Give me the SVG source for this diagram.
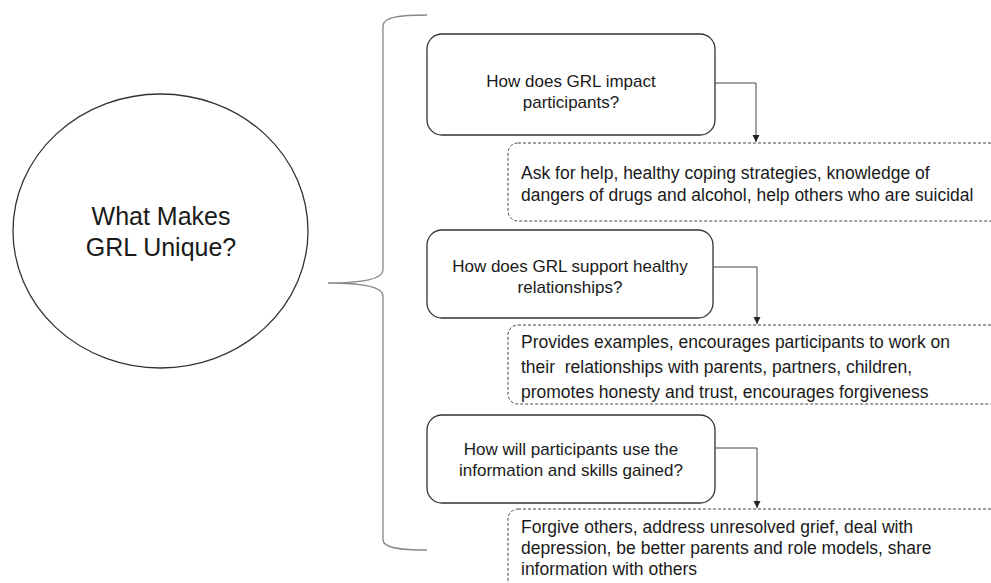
<svg xmlns="http://www.w3.org/2000/svg" width="991" height="583" viewBox="0 0 991 583">
<style>
.t{font-family:"Liberation Sans",Arial,sans-serif;fill:#1a1a1a}
.q{font-size:17px;text-anchor:middle}
.a{font-size:17.5px}
.qb{fill:#fff;stroke:#333;stroke-width:1.3}
.ab{fill:#fff;stroke:#444;stroke-width:1;stroke-dasharray:3,2}
.con{fill:none;stroke:#444;stroke-width:1}
</style>
<defs>
<marker id="arr" markerWidth="8" markerHeight="8" refX="7" refY="4" orient="auto" markerUnits="userSpaceOnUse">
<path d="M0,0.5 L7,4 L0,7.5 z" fill="#222"/>
</marker>
</defs>
<rect width="991" height="583" fill="#fff"/>
<g id="center">
<ellipse cx="160.5" cy="231" rx="147.5" ry="137" fill="#fff" stroke="#333" stroke-width="1.3"/>
<text class="t" font-size="25" text-anchor="middle" x="161" y="225">What Makes</text>
<text class="t" font-size="25" text-anchor="middle" x="161" y="256">GRL Unique?</text>
</g>
<g id="brace">
<path d="M427 15 C400 15 383 17 383 26 L383 270 C383 279 362 283 328 283 C362 283 383 287 383 296 L383 540 C383 548 400 550 427 550" fill="none" stroke="#888" stroke-width="1.3"/>
</g>
<g id="connectors">
<path class="con" d="M715 83 H756 V142" marker-end="url(#arr)"/>
<path class="con" d="M713 267 H757 V324" marker-end="url(#arr)"/>
<path class="con" d="M715 448 H757 V508" marker-end="url(#arr)"/>
</g>
<g id="q1">
<rect class="qb" x="427" y="34" width="288" height="101" rx="15"/>
<text class="t q" x="571" y="87">How does GRL impact</text>
<text class="t q" x="571" y="108">participants?</text>
</g>
<g id="a1">
<rect class="ab" x="508" y="143" width="500" height="78" rx="10"/>
<text class="t a" x="521" y="179">Ask for help, healthy coping strategies, knowledge of</text>
<text class="t a" x="521" y="201">dangers of drugs and alcohol, help others who are suicidal</text>
</g>
<g id="q2">
<rect class="qb" x="427" y="230" width="286" height="88" rx="15"/>
<text class="t q" x="570" y="272">How does GRL support healthy</text>
<text class="t q" x="570" y="293">relationships?</text>
</g>
<g id="a2">
<rect class="ab" x="508" y="325" width="500" height="79" rx="10"/>
<text class="t a" x="521" y="348">Provides examples, encourages participants to work on</text>
<text class="t a" x="521" y="373" xml:space="preserve">their  relationships with parents, partners, children,</text>
<text class="t a" x="521" y="398">promotes honesty and trust, encourages forgiveness</text>
</g>
<g id="q3">
<rect class="qb" x="427" y="415" width="288" height="88" rx="15"/>
<text class="t q" x="571" y="455">How will participants use the</text>
<text class="t q" x="571" y="476">information and skills gained?</text>
</g>
<g id="a3">
<rect class="ab" x="508" y="509" width="500" height="100" rx="10"/>
<text class="t a" x="521" y="533">Forgive others, address unresolved grief, deal with</text>
<text class="t a" x="521" y="554">depression, be better parents and role models, share</text>
<text class="t a" x="521" y="575">information with others</text>
</g>
</svg>
